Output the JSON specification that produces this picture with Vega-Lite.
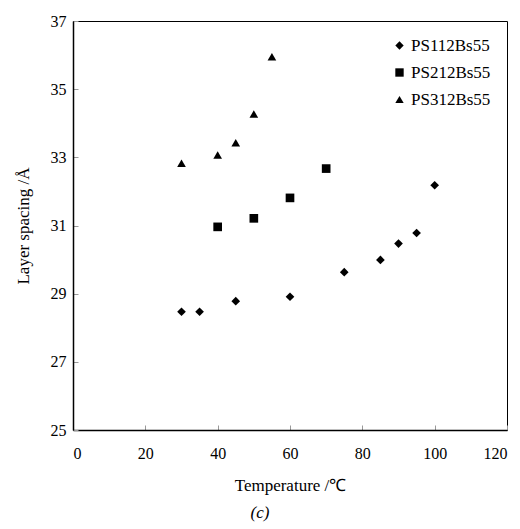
{
  "$schema": "https://vega.github.io/schema/vega-lite/v6.json",
  "width": 434,
  "height": 409,
  "autosize": "none",
  "padding": {"left": 73, "top": 21, "right": 13, "bottom": 99},
  "background": "white",
  "title": {
    "text": "(c)",
    "orient": "bottom",
    "anchor": "middle",
    "dx": -30,
    "offset": 12,
    "font": "'Liberation Serif', 'Times New Roman', serif",
    "fontSize": 17,
    "fontStyle": "italic",
    "fontWeight": "normal",
    "color": "black"
  },
  "data": {
    "values": [
      {"series": "PS112Bs55", "temp": 30, "spacing": 28.47},
      {"series": "PS112Bs55", "temp": 35, "spacing": 28.47},
      {"series": "PS112Bs55", "temp": 45, "spacing": 28.78},
      {"series": "PS112Bs55", "temp": 60, "spacing": 28.91},
      {"series": "PS112Bs55", "temp": 75, "spacing": 29.63},
      {"series": "PS112Bs55", "temp": 85, "spacing": 29.99},
      {"series": "PS112Bs55", "temp": 90, "spacing": 30.47},
      {"series": "PS112Bs55", "temp": 95, "spacing": 30.78},
      {"series": "PS112Bs55", "temp": 100, "spacing": 32.18},
      {"series": "PS212Bs55", "temp": 40, "spacing": 30.96},
      {"series": "PS212Bs55", "temp": 50, "spacing": 31.21},
      {"series": "PS212Bs55", "temp": 60, "spacing": 31.81},
      {"series": "PS212Bs55", "temp": 70, "spacing": 32.67},
      {"series": "PS312Bs55", "temp": 30, "spacing": 32.83},
      {"series": "PS312Bs55", "temp": 40, "spacing": 33.07},
      {"series": "PS312Bs55", "temp": 45, "spacing": 33.43},
      {"series": "PS312Bs55", "temp": 50, "spacing": 34.27},
      {"series": "PS312Bs55", "temp": 55, "spacing": 35.95}
    ]
  },
  "mark": {"type": "point", "filled": true, "color": "black", "opacity": 1, "size": 75},
  "encoding": {
    "x": {
      "field": "temp",
      "type": "quantitative",
      "title": "Temperature /℃",
      "scale": {"domain": [0, 120], "nice": false, "zero": false},
      "axis": {"values": [0, 20, 40, 60, 80, 100, 120], "labelPadding": 20, "titlePadding": 16}
    },
    "y": {
      "field": "spacing",
      "type": "quantitative",
      "title": "Layer spacing /Å",
      "scale": {"domain": [25, 37], "nice": false, "zero": false},
      "axis": {"values": [25, 27, 29, 31, 33, 35, 37], "labelPadding": 12, "titlePadding": 18}
    },
    "shape": {
      "field": "series",
      "type": "nominal",
      "scale": {"range": ["diamond", "square", "triangle-up"]},
      "legend": {
        "title": null,
        "orient": "top-right",
        "offset": 16,
        "padding": 0,
        "rowPadding": 9,
        "symbolSize": 70,
        "symbolFillColor": "black",
        "symbolStrokeWidth": 0,
        "labelFont": "'Liberation Serif', 'Times New Roman', serif",
        "labelFontSize": 17,
        "labelColor": "black",
        "labelOffset": 3
      }
    }
  },
  "config": {
    "font": "'Liberation Serif', 'Times New Roman', serif",
    "view": {"stroke": "black", "strokeWidth": 1},
    "axis": {
      "grid": false,
      "domainColor": "black",
      "domainWidth": 1.5,
      "tickColor": "#999999",
      "tickSize": -5,
      "labelFont": "'Liberation Serif', 'Times New Roman', serif",
      "labelFontSize": 16,
      "labelColor": "black",
      "titleFont": "'Liberation Serif', 'Times New Roman', serif",
      "titleFontSize": 17,
      "titleFontWeight": "normal",
      "titleColor": "black"
    }
  }
}
